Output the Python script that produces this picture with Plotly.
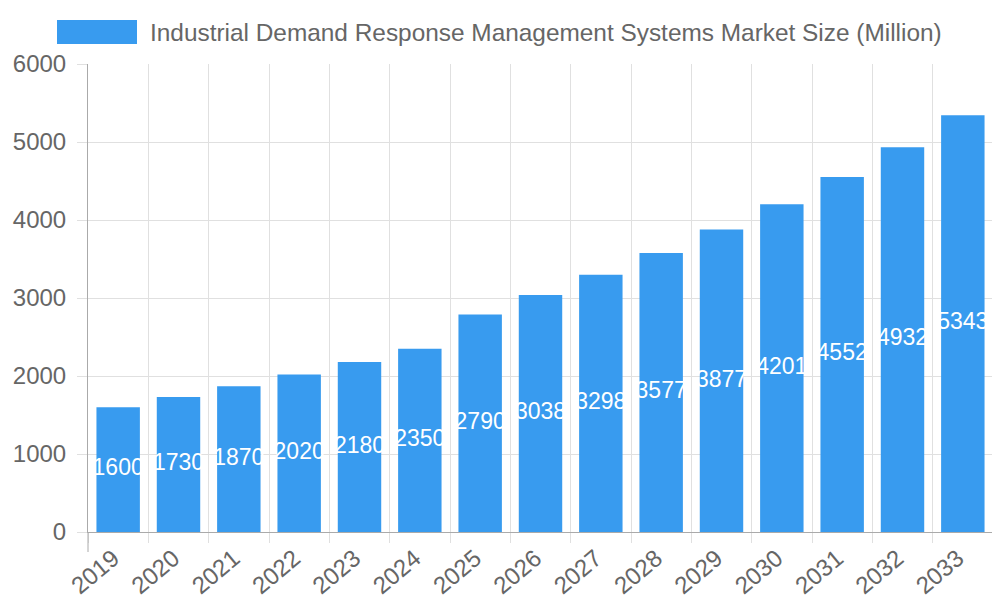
import plotly.graph_objects as go

years = ["2019", "2020", "2021", "2022", "2023", "2024", "2025", "2026", "2027",
         "2028", "2029", "2030", "2031", "2032", "2033"]
values = [1600, 1730, 1870, 2020, 2180, 2350, 2790, 3038, 3298, 3577, 3877, 4201, 4552, 4932, 5343]
series_name = "Industrial Demand Response Management Systems Market Size (Million)"
y_ticks = [0, 1000, 2000, 3000, 4000, 5000, 6000]

BLUE = "rgb(56,155,239)"
FONT = "Liberation Sans, Arial, sans-serif"

# page body has an 8px offset; plot area in page pixels: x 88..993, y 64..532
OFF = 8
L, R, T, B = 88 - OFF, 993 - OFF, 64 - OFF, 532 - OFF
W, H = 1000, 600
PW, PH = R - L, B - T

fig = go.Figure()
fig.add_trace(go.Bar(x=years, y=values, marker=dict(color=BLUE, line=dict(width=0)),
                     width=0.72, showlegend=False, hoverinfo="skip"))
fig.add_trace(go.Scatter(x=years, y=[v / 2 for v in values], mode="text",
                         text=[str(v) for v in values],
                         textfont=dict(color="white", size=23, family=FONT),
                         showlegend=False, hoverinfo="skip", cliponaxis=False))

fig.update_layout(
    width=W, height=H,
    margin=dict(l=L, r=W - R, t=T, b=H - B, autoexpand=False),
    paper_bgcolor="white", plot_bgcolor="white",
    font=dict(family=FONT, color="#666666", size=24),
    xaxis=dict(type="category", range=[-0.5, len(years) - 0.5], tickson="boundaries",
               showgrid=True, gridcolor="#e0e0e0",
               gridwidth=1, ticks="outside", ticklen=10, tickcolor="#e0e0e0",
               tickangle=-40, tickfont=dict(size=24, color="#666666"), automargin=False,
               ticklabelshift=-5, ticklabelstandoff=2,
               showline=True, linecolor="#aaaaaa", linewidth=1, zeroline=False),
    yaxis=dict(range=[0, 6000], tickvals=y_ticks, showgrid=True, gridcolor="#e0e0e0",
               ticks="outside", ticklen=10, tickcolor="#e0e0e0", automargin=False,
               tickfont=dict(size=24, color="#666666"), ticklabelstandoff=6,
               showline=True, linecolor="#aaaaaa", linewidth=1,
               zeroline=True, zerolinecolor="#aaaaaa", zerolinewidth=1),
    shapes=[dict(type="rect", xref="paper", yref="paper",
                 x0=(57 - OFF - L) / PW, x1=(137 - OFF - L) / PW,
                 y0=(B - (44 - OFF)) / PH, y1=(B - (20 - OFF)) / PH,
                 fillcolor=BLUE, line=dict(width=0)),
            dict(type="line", xref="paper", yref="paper", x0=0, x1=0,
                 y0=-20 / PH, y1=0, line=dict(color="#aaaaaa", width=1))],
    annotations=[dict(text=series_name, xref="paper", yref="paper",
                      x=(148 - OFF - L) / PW, y=(B - (32 - OFF)) / PH,
                      xanchor="left", yanchor="middle",
                      showarrow=False, font=dict(size=24.4, color="#666666", family=FONT))],
)

fig.write_html("out.html")
